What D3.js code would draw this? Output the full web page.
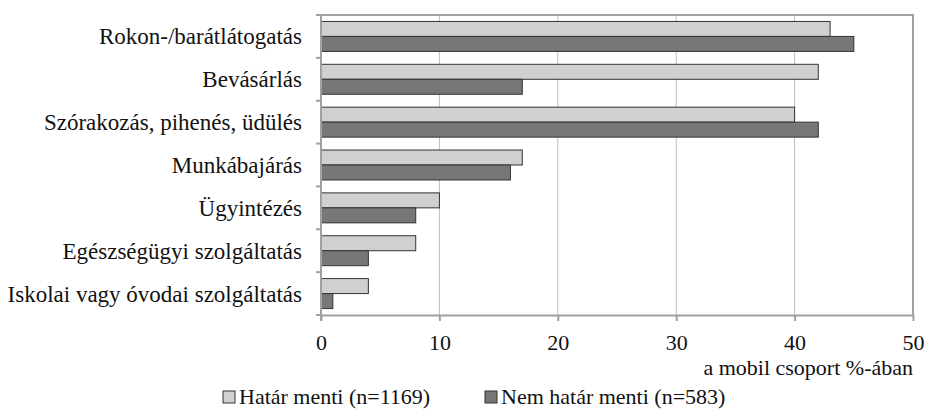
<!DOCTYPE html>
<html lang="hu">
<head>
<meta charset="utf-8">
<script src="https://d3js.org/d3.v7.min.js"></script>
</head>
<body style="margin:0">
<div id="chart"></div>
<script>
// categories, top to bottom
var categories = ["Rokon-/barátlátogatás", "Bevásárlás", "Szórakozás, pihenés, üdülés",
  "Munkábajárás", "Ügyintézés", "Egészségügyi szolgáltatás", "Iskolai vagy óvodai szolgáltatás"];
var seriesNames = ["Határ menti (n=1169)", "Nem határ menti (n=583)"];
var hatarMenti = [43, 42, 40, 17, 10, 8, 4];
var nemHatarMenti = [45, 17, 42, 16, 8, 4, 1];
var xTicks = [0, 10, 20, 30, 40, 50];
var colors = ["#d0d0d0", "#777777"];

var FONT = "Liberation Serif";
var FS = 22;

var W = 927, H = 417;
var margin = {top: 15, right: 14, bottom: 102, left: 321};
var width = W - margin.left - margin.right,
    height = H - margin.top - margin.bottom;

var svg = d3.select("#chart").append("svg")
  .attr("width", W).attr("height", H)
  .attr("font-family", FONT).attr("font-size", FS);
var g = svg.append("g")
  .attr("transform", "translate(" + margin.left + "," + margin.top + ")");

var x = d3.scaleLinear().domain([0, 50]).range([0, width]);
var y = d3.scaleBand().domain(categories).range([0, height]);
var y1 = d3.scaleBand().domain([0, 1]).range([0, y.bandwidth()]).paddingOuter(0.43);

// gridlines
g.selectAll(".grid").data(xTicks.slice(1, -1)).enter().append("line")
  .attr("x1", d => x(d)).attr("x2", d => x(d))
  .attr("y1", 0).attr("y2", height)
  .attr("stroke", "#bdbdbd").attr("stroke-width", 1);

// plot border (top and right)
g.append("path")
  .attr("d", "M0,0H" + width + "V" + height)
  .attr("fill", "none").attr("stroke", "#a0a0a0").attr("stroke-width", 2);

// bars
var rows = categories.map((c, i) => ({cat: c, vals: [hatarMenti[i], nemHatarMenti[i]]}));
var grp = g.selectAll(".grp").data(rows).enter().append("g")
  .attr("transform", d => "translate(0," + y(d.cat) + ")");
grp.selectAll("rect").data(d => d.vals).enter().append("rect")
  .attr("x", x(0))
  .attr("y", (d, i) => y1(i))
  .attr("width", d => x(d) - x(0))
  .attr("height", y1.bandwidth())
  .attr("fill", (d, i) => colors[i])
  .attr("stroke", "#333").attr("stroke-width", 1);

// x axis
var xAxis = g.append("g")
  .attr("transform", "translate(0," + height + ")")
  .call(d3.axisBottom(x).tickValues(xTicks).tickSize(6).tickSizeOuter(0).tickPadding(13));
xAxis.attr("font-family", FONT).attr("font-size", FS);
xAxis.select(".domain").attr("stroke", "#a0a0a0").attr("stroke-width", 2);
xAxis.selectAll(".tick line").attr("stroke", "#a0a0a0").attr("stroke-width", 2);
xAxis.selectAll("text").attr("fill", "#111");

// y axis
var yTickPos = d3.range(categories.length + 1).map(i => i * y.step());
g.append("line").attr("x1", 0).attr("x2", 0).attr("y1", 0).attr("y2", height + 6)
  .attr("stroke", "#a0a0a0").attr("stroke-width", 2);
g.selectAll(".ytick").data(yTickPos).enter().append("line")
  .attr("x1", -5).attr("x2", 0).attr("y1", d => d).attr("y2", d => d)
  .attr("stroke", "#a0a0a0").attr("stroke-width", 2);
g.selectAll(".ylab").data(categories).enter().append("text")
  .attr("x", -19)
  .attr("y", d => y(d) + y.bandwidth() / 2)
  .attr("dy", "0.35em")
  .attr("text-anchor", "end")
  .attr("font-size", 23)
  .attr("fill", "#111")
  .text(d => d);

// axis title
g.append("text")
  .attr("x", width).attr("y", height + 60)
  .attr("text-anchor", "end")
  .attr("fill", "#111")
  .text("a mobil csoport %-ában");

// legend
var legendX = [223, 485];
var leg = svg.selectAll(".leg").data(seriesNames).enter().append("g")
  .attr("transform", (d, i) => "translate(" + legendX[i] + ",404)");
leg.append("rect").attr("x", 0).attr("y", -13).attr("width", 12).attr("height", 12)
  .attr("fill", (d, i) => colors[i]).attr("stroke", "#333").attr("stroke-width", 1);
leg.append("text").attr("x", 16).attr("y", 0)
  .attr("fill", "#111")
  .text(d => d);
</script>
</body>
</html>
